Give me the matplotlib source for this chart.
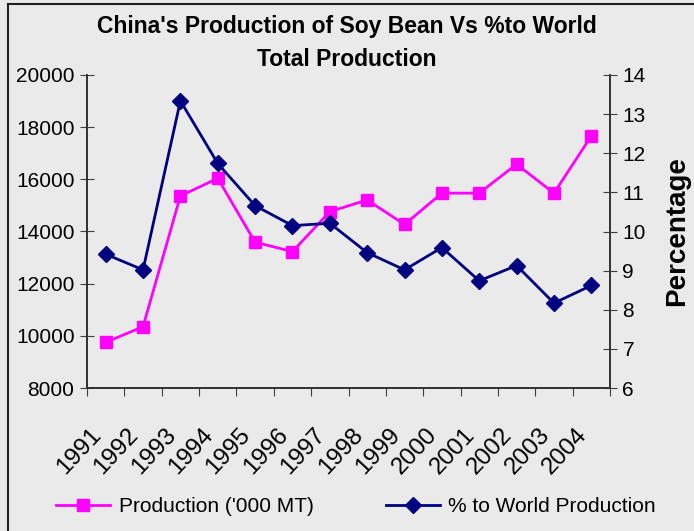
import matplotlib.pyplot as plt
from matplotlib.lines import Line2D

plt.rcParams['font.family'] = ['Liberation Sans', 'DejaVu Sans']

years = ["1991", "1992", "1993", "1994", "1995", "1996", "1997",
         "1998", "1999", "2000", "2001", "2002", "2003", "2004"]
production = [9750, 10350, 15360, 16040, 13590, 13230, 14760,
              15210, 14270, 15470, 15470, 16580, 15470, 17660]
pct_world = [9.42, 9.02, 13.34, 11.74, 10.66, 10.15, 10.21,
             9.46, 9.02, 9.59, 8.74, 9.13, 8.17, 8.62]

BG = "#eaeaea"
W, H = 694, 531

fig = plt.figure(figsize=(W / 100, H / 100), dpi=100, facecolor=BG)
ax = fig.add_axes([87 / W, 1 - 388 / H, (610 - 87) / W, (388 - 75) / H])
ax.set_facecolor(BG)
ax2 = ax.twinx()

x = list(range(len(years)))
ax.plot(x, production, color="#ff00ff", lw=2, marker="s", ms=9,
        mec="#ff00ff", mfc="#ff00ff", zorder=3)
ax2.plot(x, pct_world, color="#000080", lw=2, marker="D", ms=8,
         mec="#000080", mfc="#000080", zorder=3)

ax.set_xlim(-0.5, len(years) - 0.5)
ax.set_ylim(8000, 20000)
ax.set_yticks(range(8000, 20001, 2000))
ax2.set_ylim(6, 14)
ax2.set_yticks(range(6, 15))

# category boundaries carry the tick marks, labels sit on the centres
ax.set_xticks([i - 0.5 for i in range(len(years) + 1)], minor=False)
ax.set_xticklabels([])
ax.set_xticks(x, minor=True)
ax.set_xticklabels(years, minor=True, rotation=47, ha="right", va="top",
                   fontsize=17.5)
ax.tick_params(axis="x", which="major", direction="out", length=6,
               color="#404040")
ax.tick_params(axis="x", which="minor", length=0, pad=26)

ax.tick_params(axis="y", direction="inout", length=10, labelsize=15,
               pad=4, color="#404040")
ax2.tick_params(axis="y", direction="inout", length=10, labelsize=15,
                pad=4, color="#404040")

for a in (ax, ax2):
    a.spines["top"].set_visible(False)
    for s in ("left", "right", "bottom"):
        a.spines[s].set_color("#303030")
        a.spines[s].set_linewidth(1.2)

ax2.set_ylabel("Percentage", fontsize=20, fontweight="bold", labelpad=13)

fig.text(347 / W, 1 - 27 / H, "China's Production of Soy Bean Vs %to World",
         ha="center", va="center", fontsize=16.5, fontweight="bold")
fig.text(347 / W, 1 - 60 / H, "Total Production",
         ha="center", va="center", fontsize=16.5, fontweight="bold")

handles = [
    Line2D([], [], color="#ff00ff", lw=2, marker="s", ms=9),
    Line2D([], [], color="#000080", lw=2, marker="D", ms=8),
]
fig.legend(handles, ["Production ('000 MT)", "% to World Production"],
           loc="center", bbox_to_anchor=(356 / W, 1 - 507 / H), ncol=2,
           frameon=False, fontsize=15, handlelength=2.6, handletextpad=0.4,
           columnspacing=3.45)

# chart border (left and top edges visible in the reference)
fig.add_artist(Line2D([7.5 / W, 7.5 / W], [0, 1 - 4 / H], color="#202020",
                      lw=1.5, transform=fig.transFigure))
fig.add_artist(Line2D([7.5 / W, 1], [1 - 4 / H, 1 - 4 / H], color="#202020",
                      lw=1.5, transform=fig.transFigure))

fig.savefig("out.png", dpi=100, facecolor=BG)
